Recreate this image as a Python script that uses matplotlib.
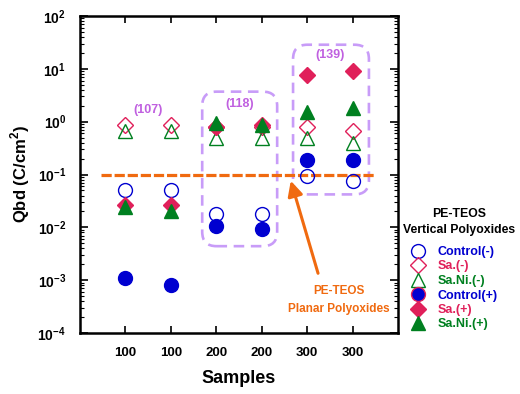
import matplotlib
matplotlib.use("Agg")
import matplotlib.pyplot as plt
from matplotlib.patches import FancyBboxPatch
from matplotlib.lines import Line2D
import numpy as np

plt.rcParams['font.family'] = ['Liberation Sans', 'DejaVu Sans']
plt.rcParams['mathtext.fontset'] = 'custom'
plt.rcParams['mathtext.rm'] = 'Liberation Sans:bold'
plt.rcParams['mathtext.bf'] = 'Liberation Sans:bold'

positions = [1, 2, 3, 4, 5, 6]
tick_labels = ['100', '100', '200', '200', '300', '300']

control_neg = [0.05, 0.05, 0.018, 0.018, 0.095, 0.075]
sa_neg = [0.88, 0.88, 0.8, 0.8, 0.8, 0.68]
sani_neg = [0.68, 0.66, 0.5, 0.5, 0.5, 0.4]
control_pos = [0.00108, 0.0008, 0.0108, 0.0092, 0.19, 0.19]
sa_pos = [0.027, 0.027, 0.8, 0.85, 7.7, 9.2]
sani_pos = [0.024, 0.02, 0.95, 0.88, 1.5, 1.8]

planar_level = 0.1

blue = '#0000d0'
pink = '#e0205a'
green = '#008020'
purple = '#c060e0'
lav = '#c89cf8'
orange = '#f06a10'

fig = plt.figure(figsize=(5.2, 3.94), dpi=100)
ax = fig.add_axes([80/520, 61/394, 318/520, 317/394])
ax.set_yscale('log')
ax.set_xlim(0, 7)
ax.set_ylim(1e-4, 1e2)

ms = 10
ax.plot(positions, control_neg, 'o', ls='none', mfc='none', mec=blue, mew=1.0, ms=ms, zorder=4)
ax.plot(positions, sa_neg, 'D', ls='none', mfc='none', mec=pink, mew=1.0, ms=ms*0.8, zorder=4)
ax.plot(positions, sani_neg, '^', ls='none', mfc='none', mec=green, mew=1.0, ms=ms, zorder=4)
ax.plot(positions, control_pos, 'o', ls='none', mfc=blue, mec=blue, ms=ms, zorder=5)
ax.plot(positions, sa_pos, 'D', ls='none', mfc=pink, mec=pink, ms=ms*0.8, zorder=5)
ax.plot(positions, sani_pos, '^', ls='none', mfc=green, mec=green, ms=ms, zorder=6)

ax.plot([0.47, 6.5], [planar_level, planar_level], color=orange, lw=2.3,
        ls=(0, (3.2, 0.9)), zorder=3)

to_axes = ax.transData + ax.transAxes.inverted()

def rbox(x0, x1, y0, y1):
    (ax0, ay0) = to_axes.transform((x0, y0))
    (ax1, ay1) = to_axes.transform((x1, y1))
    p = FancyBboxPatch((ax0, ay0), ax1 - ax0, ay1 - ay0,
                       boxstyle='round,pad=0,rounding_size=0.045',
                       transform=ax.transAxes, fill=False, ec=lav, lw=1.9,
                       ls=(0, (4, 2.5)), zorder=2, clip_on=False)
    ax.add_patch(p)

rbox(2.69, 4.34, 0.0044, 3.7)
rbox(4.69, 6.36, 0.042, 28.6)

ax.text(1.5, 1.65, '(107)', color=purple, fontsize=9, fontweight='bold', ha='center', va='center')
ax.text(3.52, 2.2, '(118)', color=purple, fontsize=9, fontweight='bold', ha='center', va='center')
ax.text(5.5, 18.0, '(139)', color=purple, fontsize=9, fontweight='bold', ha='center', va='center')

ax.annotate('', xy=(4.64, 0.076), xytext=(5.24, 0.00135),
            arrowprops=dict(arrowstyle='-|>,head_length=0.9,head_width=0.45', color=orange, lw=2.2,
                            shrinkA=0, shrinkB=0), zorder=7)
ax.text(5.7, 0.00042, 'PE-TEOS\nPlanar Polyoxides', color=orange, fontsize=8.5,
        fontweight='bold', ha='center', va='center', linespacing=1.6)

ax.set_xticks(positions)
ax.set_xticklabels(tick_labels, fontsize=9.5, fontweight='bold')
ax.set_yticks([10.0**k for k in range(-4, 3)])
ax.set_yticklabels([r'$\mathbf{10^{%d}}$' % k for k in range(-4, 3)], fontsize=10)
ax.tick_params(axis='both', which='both', direction='in', top=True, right=True)
ax.tick_params(axis='x', which='major', length=5, width=1.2, pad=10)
ax.tick_params(axis='y', which='major', length=6, width=1.2, pad=10)
ax.tick_params(axis='y', which='minor', length=3, width=0.8)
ax.tick_params(axis='x', which='minor', bottom=False, top=False)
for s in ax.spines.values():
    s.set_linewidth(1.8)

ax.set_xlabel('Samples', fontsize=13, fontweight='bold', labelpad=8)
ax.set_ylabel(r'Qbd (C/cm$^{\mathbf{2}}$)', fontsize=12, fontweight='bold', labelpad=4)

handles = [
    Line2D([], [], marker='o', ls='none', mfc='none', mec=blue, ms=ms),
    Line2D([], [], marker='D', ls='none', mfc='none', mec=pink, ms=ms*0.8),
    Line2D([], [], marker='^', ls='none', mfc='none', mec=green, ms=ms),
    Line2D([], [], marker='o', ls='none', mfc=blue, mec=pink, ms=ms),
    Line2D([], [], marker='D', ls='none', mfc=pink, mec=pink, ms=ms*0.8),
    Line2D([], [], marker='^', ls='none', mfc=green, mec=green, ms=ms),
]
labels = ['Control(-)', 'Sa.(-)', 'Sa.Ni.(-)', 'Control(+)', 'Sa.(+)', 'Sa.Ni.(+)']
fig.text(459/520, 1 - 222/394, 'PE-TEOS\nVertical Polyoxides', ha='center', va='center',
         multialignment='center', fontsize=8.8, fontweight='bold', linespacing=1.45)
leg = fig.legend(handles, labels, loc='upper left', bbox_to_anchor=(404/520, 1 - 241/394),
                 frameon=False, fontsize=9, labelspacing=0.2, handletextpad=0.9,
                 handlelength=1.4, borderaxespad=0,
                 labelcolor=[blue, pink, green, blue, pink, green])
for t in leg.get_texts():
    t.set_fontweight('bold')

fig.savefig('out.png', dpi=100)
